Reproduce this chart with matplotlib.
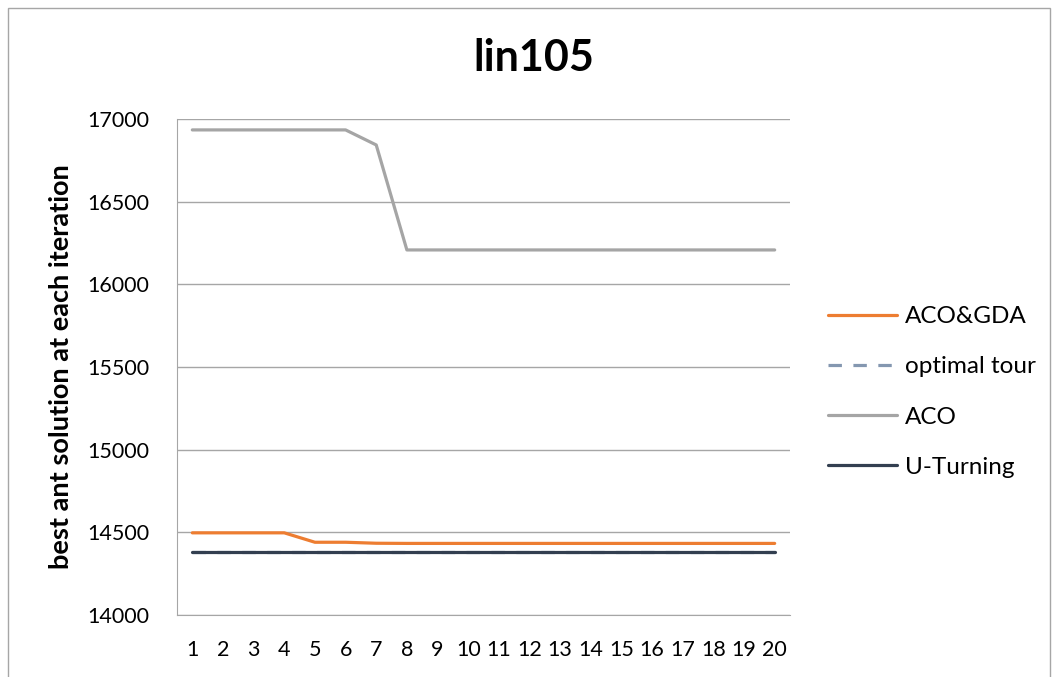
import matplotlib.pyplot as plt
from matplotlib.patches import Rectangle

iterations = list(range(1, 21))
aco_gda = [14497, 14497, 14497, 14497, 14440, 14440, 14434, 14433, 14433, 14433,
           14433, 14433, 14433, 14433, 14433, 14433, 14433, 14433, 14433, 14433]
optimal = [14379] * 20
aco = [16934, 16934, 16934, 16934, 16934, 16934, 16843, 16208, 16208, 16208,
       16208, 16208, 16208, 16208, 16208, 16208, 16208, 16208, 16208, 16208]
u_turning = [14379] * 20

plt.rcParams['font.family'] = ['Lato', 'DejaVu Sans']

fig = plt.figure(figsize=(10.58, 6.77), dpi=100)
ax = fig.add_axes([177/1058, 1 - 615/677, (790 - 177)/1058, (615 - 119)/677])

l1, = ax.plot(iterations, aco_gda, color='#ED7D31', lw=2.3, solid_capstyle='round', zorder=4)
l2, = ax.plot(iterations, optimal, color='#8497B0', lw=2.3, linestyle=(0, (4.2, 3.6)), zorder=2)
l3, = ax.plot(iterations, aco, color='#A5A5A5', lw=2.3, solid_capstyle='round', zorder=3)
l4, = ax.plot(iterations, u_turning, color='#333F50', lw=2.3, solid_capstyle='round', zorder=3)

ax.set_xlim(0.5, 20.5)
ax.set_ylim(14000, 17000)
ax.set_yticks([14000, 14500, 15000, 15500, 16000, 16500, 17000])
ax.set_xticks(iterations)
ax.grid(axis='y', color='#A6A6A6', lw=1)
ax.set_axisbelow(True)
for s in ['top', 'right']:
    ax.spines[s].set_visible(False)
for s in ['left', 'bottom']:
    ax.spines[s].set_color('#A6A6A6')
ax.tick_params(length=0, labelsize=15.5, pad=18)
ax.tick_params(axis='y', pad=20)

ax.set_ylabel('best ant solution at each iteration', fontsize=19.5, fontweight='bold')
ax.yaxis.set_label_coords(-0.170, 0.5)
fig.text(0.505, 1 - 58/677, 'lin105', fontsize=31, fontweight='bold', ha='center', va='center')

fig.legend([l1, l2, l3, l4], ['ACO&GDA', 'optimal tour', 'ACO', 'U-Turning'],
           loc='center left', bbox_to_anchor=(806/1058, 1 - 392/677), frameon=False,
           fontsize=17.5, handlelength=2.85, handletextpad=0.32, labelspacing=1.2)

fig.patches.append(Rectangle((8/1058, -0.05), (1050 - 8)/1058, 1.05 - 8/677,
                             transform=fig.transFigure, fill=False, edgecolor='#A6A6A6', lw=1))

fig.savefig('out.png', dpi=100)
